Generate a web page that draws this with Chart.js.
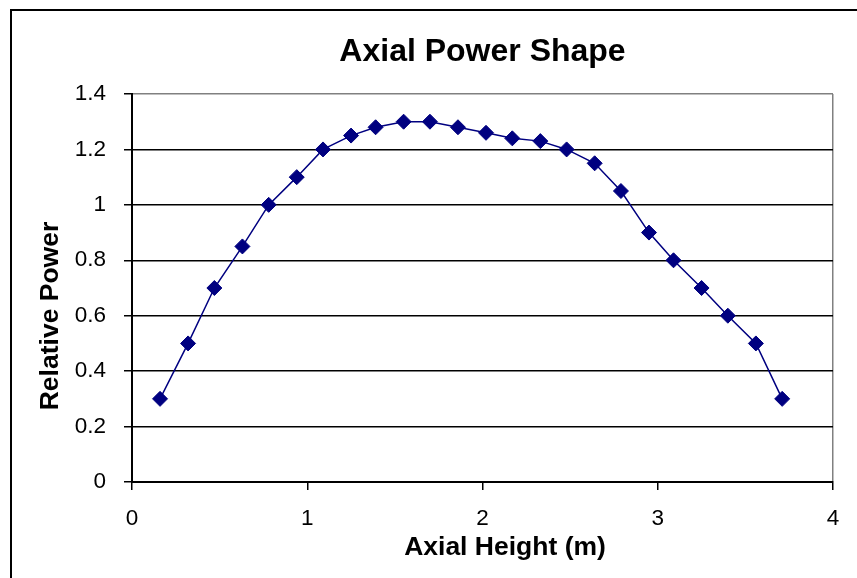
<!DOCTYPE html>
<html>
<head>
<meta charset="utf-8">
<script src="https://cdn.jsdelivr.net/npm/chart.js@4"></script>
<style>
  html, body { margin: 0; padding: 0; background: #fff; }
  #c { display: block; }
</style>
</head>
<body>
<canvas id="c" width="857" height="578"></canvas>
<script>
const chartTitle = 'Axial Power Shape';
const xTitle = 'Axial Height (m)';
const yTitle = 'Relative Power';
const axialHeight = [0.16, 0.32, 0.47, 0.63, 0.78, 0.94, 1.09, 1.25, 1.39, 1.55, 1.70, 1.86,
                     2.02, 2.17, 2.33, 2.48, 2.64, 2.79, 2.95, 3.09, 3.25, 3.40, 3.56, 3.71];
const relativePower = [0.30, 0.50, 0.70, 0.85, 1.00, 1.10, 1.20, 1.25, 1.28, 1.30, 1.30, 1.28,
                       1.26, 1.24, 1.23, 1.20, 1.15, 1.05, 0.90, 0.80, 0.70, 0.60, 0.50, 0.30];
const xTickLabels = ['0', '1', '2', '3', '4'];
const yTickLabels = ['0', '0.2', '0.4', '0.6', '0.8', '1', '1.2', '1.4'];

const FONT = '"Liberation Sans", Arial, sans-serif';

const points = axialHeight.map((x, i) => ({ x: x, y: relativePower[i] }));

const framePlugin = {
  id: 'frame',
  beforeDraw(chart) {
    const ctx = chart.ctx;
    ctx.save();
    ctx.fillStyle = '#fff';
    ctx.fillRect(0, 0, chart.width, chart.height);
    ctx.strokeStyle = '#000';
    ctx.lineWidth = 2;
    ctx.beginPath();
    ctx.moveTo(11, chart.height + 5);
    ctx.lineTo(11, 10);
    ctx.lineTo(chart.width + 5, 10);
    ctx.stroke();
    ctx.restore();
  }
};

const axisTitlePlugin = {
  id: 'axisTitles',
  afterDraw(chart) {
    const ctx = chart.ctx;
    ctx.save();
    ctx.fillStyle = '#000';
    ctx.font = 'bold 26.5px ' + FONT;
    ctx.textAlign = 'center';
    ctx.textBaseline = 'middle';
    ctx.fillText(xTitle, 505, 548);
    ctx.translate(51, 316);
    ctx.rotate(-Math.PI / 2);
    ctx.fillText(yTitle, 0, 0);
    ctx.restore();
  }
};

new Chart(document.getElementById('c'), {
  type: 'scatter',
  data: {
    datasets: [{
      data: points,
      showLine: true,
      borderColor: '#000080',
      borderWidth: 1.5,
      backgroundColor: '#000080',
      pointStyle: 'rectRot',
      pointRadius: 7.5,
      pointHoverRadius: 7.5,
      pointBorderWidth: 1,
      pointBorderColor: '#000080',
      pointBackgroundColor: '#000080',
      tension: 0
    }]
  },
  options: {
    responsive: false,
    animation: false,
    devicePixelRatio: 1,
    layout: { padding: { left: 0, right: 24, top: 0, bottom: 0 } },
    plugins: {
      legend: { display: false },
      tooltip: { enabled: false },
      title: {
        display: true,
        text: chartTitle,
        fullSize: false,
        color: '#000',
        font: { family: FONT, size: 32, weight: 'bold', lineHeight: 1.2 },
        padding: { top: 33, bottom: 22.6 }
      }
    },
    scales: {
      x: {
        type: 'linear',
        min: 0,
        max: 4,
        afterFit(scale) { scale.height = 96; },
        ticks: {
          stepSize: 1,
          padding: 15,
          color: '#000',
          maxRotation: 0,
          font: { family: FONT, size: 22.5 },
          callback: (v, i) => xTickLabels[i]
        },
        grid: {
          drawOnChartArea: true,
          color: (c) => (c.tick && c.tick.value === 4) ? '#808080' : 'rgba(0,0,0,0)',
          tickColor: '#000',
          tickLength: 8,
          lineWidth: 1.5
        },
        border: { display: true, color: '#000', width: 2 }
      },
      y: {
        type: 'linear',
        min: 0,
        max: 1.4,
        afterFit(scale) { scale.width = 132; },
        ticks: {
          stepSize: 0.2,
          padding: 18,
          color: '#000',
          font: { family: FONT, size: 22.5 },
          callback: (v, i) => yTickLabels[i]
        },
        grid: {
          color: (c) => (c.index === 7) ? '#808080' : '#000',
          tickColor: '#000',
          tickLength: 8,
          lineWidth: 1.5
        },
        border: { display: true, color: '#000', width: 2 }
      }
    }
  },
  plugins: [framePlugin, axisTitlePlugin]
});
</script>
</body>
</html>
